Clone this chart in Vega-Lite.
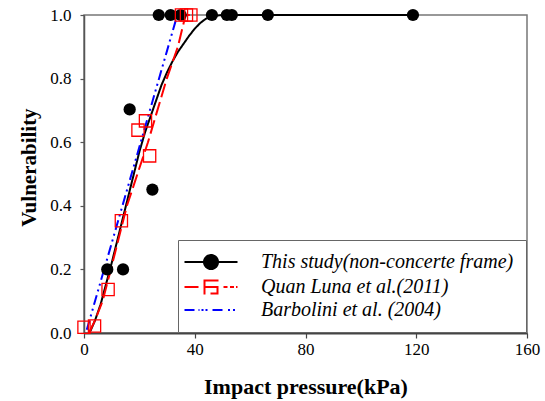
{
  "$schema": "https://vega.github.io/schema/vega-lite/v6.json",
  "width": 443,
  "height": 318,
  "autosize": "none",
  "padding": {"left": 84, "top": 15, "right": 18, "bottom": 68},
  "background": "white",
  "config": {
    "view": {"stroke": "#777", "strokeWidth": 1.5},
    "font": "Liberation Serif"
  },
  "datasets": {
    "curves": [
      {"series": "This study(non-concerte frame)", "x": 2, "y": 0},
      {"series": "This study(non-concerte frame)", "x": 4, "y": 0.04},
      {"series": "This study(non-concerte frame)", "x": 6, "y": 0.09},
      {"series": "This study(non-concerte frame)", "x": 8, "y": 0.155},
      {"series": "This study(non-concerte frame)", "x": 10, "y": 0.22},
      {"series": "This study(non-concerte frame)", "x": 12, "y": 0.29},
      {"series": "This study(non-concerte frame)", "x": 14, "y": 0.36},
      {"series": "This study(non-concerte frame)", "x": 16, "y": 0.43},
      {"series": "This study(non-concerte frame)", "x": 18, "y": 0.5},
      {"series": "This study(non-concerte frame)", "x": 20, "y": 0.57},
      {"series": "This study(non-concerte frame)", "x": 22, "y": 0.63},
      {"series": "This study(non-concerte frame)", "x": 24, "y": 0.68},
      {"series": "This study(non-concerte frame)", "x": 26, "y": 0.73},
      {"series": "This study(non-concerte frame)", "x": 28, "y": 0.78},
      {"series": "This study(non-concerte frame)", "x": 30, "y": 0.82},
      {"series": "This study(non-concerte frame)", "x": 32, "y": 0.855},
      {"series": "This study(non-concerte frame)", "x": 34, "y": 0.885},
      {"series": "This study(non-concerte frame)", "x": 36, "y": 0.91},
      {"series": "This study(non-concerte frame)", "x": 38, "y": 0.935},
      {"series": "This study(non-concerte frame)", "x": 40, "y": 0.957},
      {"series": "This study(non-concerte frame)", "x": 42, "y": 0.975},
      {"series": "This study(non-concerte frame)", "x": 44, "y": 0.988},
      {"series": "This study(non-concerte frame)", "x": 46, "y": 0.996},
      {"series": "This study(non-concerte frame)", "x": 50, "y": 1.0},
      {"series": "This study(non-concerte frame)", "x": 118.8, "y": 1.0},
      {"series": "Quan Luna et al.(2011)", "x": 1.8, "y": 0},
      {"series": "Quan Luna et al.(2011)", "x": 4, "y": 0.04},
      {"series": "Quan Luna et al.(2011)", "x": 6.7, "y": 0.1},
      {"series": "Quan Luna et al.(2011)", "x": 9.7, "y": 0.2},
      {"series": "Quan Luna et al.(2011)", "x": 12.6, "y": 0.3},
      {"series": "Quan Luna et al.(2011)", "x": 15.5, "y": 0.4},
      {"series": "Quan Luna et al.(2011)", "x": 19.3, "y": 0.5},
      {"series": "Quan Luna et al.(2011)", "x": 23.1, "y": 0.6},
      {"series": "Quan Luna et al.(2011)", "x": 26.5, "y": 0.7},
      {"series": "Quan Luna et al.(2011)", "x": 29.9, "y": 0.8},
      {"series": "Quan Luna et al.(2011)", "x": 33.9, "y": 0.9},
      {"series": "Quan Luna et al.(2011)", "x": 36.7, "y": 1.0},
      {"series": "Quan Luna et al.(2011)", "x": 38.6, "y": 1.0},
      {"series": "Barbolini et al. (2004)", "x": 1.0, "y": 0.01},
      {"series": "Barbolini et al. (2004)", "x": 33.7, "y": 1.0}
    ],
    "study": [
      {"x": 8.4, "y": 0.2},
      {"x": 14.1, "y": 0.2},
      {"x": 16.5, "y": 0.703},
      {"x": 24.7, "y": 0.451},
      {"x": 27.0, "y": 1.0},
      {"x": 31.3, "y": 1.0},
      {"x": 34.9, "y": 1.0},
      {"x": 46.2, "y": 1.0},
      {"x": 51.6, "y": 1.0},
      {"x": 53.4, "y": 1.0},
      {"x": 66.4, "y": 1.0},
      {"x": 118.8, "y": 1.0}
    ],
    "quan": [
      {"x": 0.0, "y": 0.018},
      {"x": 3.8, "y": 0.022},
      {"x": 8.7, "y": 0.137},
      {"x": 13.5, "y": 0.353},
      {"x": 19.5, "y": 0.638},
      {"x": 22.2, "y": 0.667},
      {"x": 23.7, "y": 0.557},
      {"x": 35.2, "y": 1.0},
      {"x": 37.0, "y": 1.0},
      {"x": 38.6, "y": 1.0}
    ]
  },
  "layer": [
    {
      "data": {"name": "curves"},
      "mark": {"type": "line", "strokeWidth": 2},
      "encoding": {
        "x": {
          "field": "x", "type": "quantitative",
          "scale": {"domain": [0, 160], "nice": false, "zero": false},
          "axis": {
            "values": [0, 40, 80, 120, 160], "grid": false, "labelFlush": false,
            "title": "Impact pressure(kPa)",
            "titleFont": "Liberation Serif", "titleFontSize": 22, "titleFontWeight": "bold", "titleColor": "black",
            "titleBaseline": "alphabetic", "titleY": 60,
            "labelFont": "Liberation Serif", "labelFontSize": 17, "labelColor": "black", "labelPadding": 3,
            "domainColor": "#444", "domainWidth": 2, "tickColor": "#444", "tickSize": 5, "tickWidth": 1.2
          }
        },
        "y": {
          "field": "y", "type": "quantitative",
          "scale": {"domain": [0, 1], "nice": false, "zero": false},
          "axis": {
            "values": [0, 0.2, 0.4, 0.6, 0.8, 1.0], "format": ".1f", "grid": false,
            "title": "Vulnerability",
            "titleFont": "Liberation Serif", "titleFontSize": 21, "titleFontWeight": "bold", "titleColor": "black",
            "titleBaseline": "alphabetic", "titleX": -49, "titleY": 152, "titleAlign": "center", "titleAngle": 270,
            "labelFont": "Liberation Serif", "labelFontSize": 17, "labelColor": "black", "labelPadding": 9,
            "domainColor": "#555", "domainWidth": 1.5, "tickColor": "#555", "tickSize": 4, "tickWidth": 1.2
          }
        },
        "color": {
          "field": "series", "type": "nominal",
          "scale": {
            "domain": ["This study(non-concerte frame)", "Quan Luna et al.(2011)", "Barbolini et al. (2004)"],
            "range": ["black", "#ff0000", "#0000ff"]
          },
          "legend": {
            "title": null,
            "orient": "bottom-right",
            "offset": 1,
            "fillColor": "white",
            "strokeColor": "#666",
            "padding": 12,
            "symbolSize": 100,
            "labelFont": "Liberation Serif",
            "labelFontStyle": "italic",
            "labelFontSize": 20,
            "labelColor": "black",
            "labelLimit": 400,
            "labelOffset": 51,
            "rowPadding": 2,
            "symbolType": "M-5.3,0H5.3",
            "encode": {
              "symbols": {
                "update": {
                  "shape": {"signal": "datum.value === 'This study(non-concerte frame)' ? 'M-3.1,0H7.5M0.8,0A1.4,1.4,0,1,0,3.6,0A1.4,1.4,0,1,0,0.8,0Z' : datum.value === 'Quan Luna et al.(2011)' ? 'M-3.1,0H0.6M0.9,-1.3H3.5V1.3H0.9ZM0.9,0H4.2M4.7,0H5.5M6.0,0H6.8M7.2,0H7.5' : 'M-3.1,0H-0.1M0.3,0H0.7M1.1,0H1.5M2.5,0H5.1M5.6,0H6.0M6.6,0H7.0'"},
                  "fill": {"signal": "datum.value === 'This study(non-concerte frame)' ? 'black' : 'transparent'"},
                  "stroke": {"signal": "datum.value === 'This study(non-concerte frame)' ? 'black' : datum.value === 'Quan Luna et al.(2011)' ? '#ff0000' : '#0000ff'"},
                  "strokeWidth": {"signal": "datum.value === 'Barbolini et al. (2004)' ? 3 : 2"},
                  "strokeDash": {"value": [1, 0]},
                  "opacity": {"value": 1}
                }
              }
            }
          }
        },
        "strokeDash": {
          "field": "series", "type": "nominal",
          "scale": {
            "domain": ["This study(non-concerte frame)", "Quan Luna et al.(2011)", "Barbolini et al. (2004)"],
            "range": [[1, 0], [14, 5], [10, 4, 2, 4, 2, 4]]
          },
          "legend": null
        },
        "strokeWidth": {
          "field": "series", "type": "nominal",
          "scale": {
            "domain": ["This study(non-concerte frame)", "Quan Luna et al.(2011)", "Barbolini et al. (2004)"],
            "range": [2, 2, 3]
          },
          "legend": null
        }
      }
    },
    {
      "data": {"name": "study"},
      "mark": {"type": "circle", "color": "black", "size": 150, "opacity": 1},
      "encoding": {
        "x": {"field": "x", "type": "quantitative"},
        "y": {"field": "y", "type": "quantitative"}
      }
    },
    {
      "data": {"name": "quan"},
      "mark": {"type": "square", "filled": false, "color": "#ff0000", "size": 150, "strokeWidth": 1.3, "opacity": 1},
      "encoding": {
        "x": {"field": "x", "type": "quantitative"},
        "y": {"field": "y", "type": "quantitative"}
      }
    }
  ]
}
